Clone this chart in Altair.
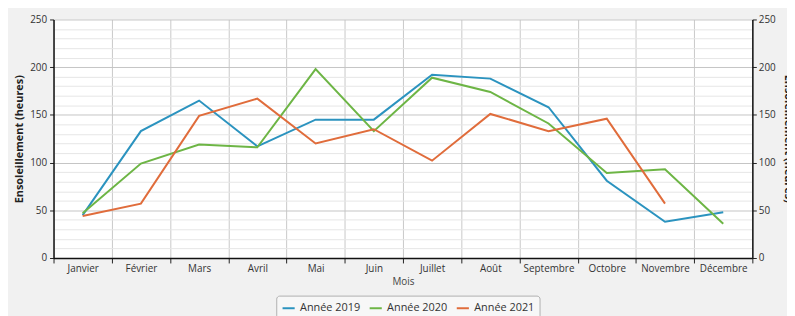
import altair as alt
import pandas as pd

months = ["Janvier", "Février", "Mars", "Avril", "Mai", "Juin", "Juillet",
          "Août", "Septembre", "Octobre", "Novembre", "Décembre"]
series = ["Année 2019", "Année 2020", "Année 2021"]
y2019 = [45, 133, 165, 117, 145, 145, 192, 188, 158, 81, 38, 48]
y2020 = [47, 99, 119, 116, 198, 133, 189, 174, 141, 89, 93, 36]
y2021 = [44, 57, 149, 167, 120, 135, 102, 151, 133, 146, 57, None]
colors = ["#2b93bf", "#6db545", "#e06c3b"]
y_ticks = list(range(0, 251, 10))

rows = []
for name, vals in zip(series, [y2019, y2020, y2021]):
    for m, v in zip(months, vals):
        if v is not None:
            rows.append({"Mois": m, "Série": name, "Heures": v})
df = pd.DataFrame(rows)

FONT = "Open Sans"
major = "datum.value % 50 === 0"

x_enc = alt.X(
    "Mois:N", sort=months, bandPosition=0.5,
    scale=alt.Scale(type="band", paddingInner=0, paddingOuter=0, domain=months),
    axis=alt.Axis(
        title="Mois", tickBand="extent", labelAngle=0, labelFontSize=10,
        labelColor="#333", labelFont=FONT, labelPadding=1,
        titleFont=FONT, titleFontSize=10, titleFontWeight="normal", titleColor="#444",
        titlePadding=3, domainColor="#111", domainWidth=1.5, tickColor="#222",
        tickSize=5, gridColor="#c8c8c8", grid=True,
    ),
)

y_scale = alt.Scale(domain=[0, 250], nice=False)

lines = alt.Chart(df).mark_line(strokeWidth=2).encode(
    x=x_enc,
    y=alt.Y(
        "Heures:Q", scale=y_scale,
        axis=alt.Axis(
            values=y_ticks, title="Ensoleillement (heures)", titleFont=FONT,
            titleFontSize=11, titleFontWeight="bold", titleColor="#222",
            titlePadding=5, labelFont=FONT, labelFontSize=10, labelColor="#333",
            labelPadding=3, labelExpr=f"{major} ? datum.label : ''",
            domainColor="#111", domainWidth=1.5, tickColor="#222", tickSize=4,
            tickOpacity={"condition": {"test": major, "value": 1}, "value": 0},
            gridColor={"condition": {"test": major, "value": "#c4c4c4"}, "value": "#e6e6e6"},
            grid=True,
        ),
    ),
    color=alt.Color(
        "Série:N", scale=alt.Scale(domain=series, range=colors),
        legend=alt.Legend(
            title=None, orient="none", legendX=225, legendY=279, direction="horizontal",
            symbolType="stroke", symbolStrokeWidth=2, symbolSize=150,
            labelFont=FONT, labelFontSize=11, labelColor="#333", labelOffset=4,
            strokeColor="#b0b0b0", fillColor="#f7f7f7", cornerRadius=3, padding=5,
            columnPadding=5,
        ),
    ),
)

right = alt.Chart(df).mark_line(opacity=0).encode(
    x=alt.X("Mois:N", sort=months, bandPosition=0.5,
            scale=alt.Scale(type="band", paddingInner=0, paddingOuter=0, domain=months)),
    y=alt.Y(
        "Heures:Q", scale=y_scale,
        axis=alt.Axis(
            orient="right", values=list(range(0, 251, 50)), grid=False,
            title="Ensoleillement (heures)", titleFont=FONT, titleFontSize=11,
            titleFontWeight="bold", titleColor="#222", titleAngle=90, titleX=30,
            titleY=120, labelFont=FONT, labelFontSize=10, labelColor="#333",
            labelPadding=2, domainColor="#111", domainWidth=1.5, tickColor="#222",
            tickSize=4,
        ),
    ),
    detail="Série:N",
)

chart = alt.layer(lines, right).resolve_axis(y="independent").properties(
    width=706, height=241,
    autosize=alt.AutoSizeParams(type="none"),
    padding={"left": 46, "top": 10, "right": 35, "bottom": 57},
    background="#f1f1f1",
).configure_view(stroke=None, fill="white")

chart.save("out.html", embed_options={"renderer": "svg", "actions": False})
